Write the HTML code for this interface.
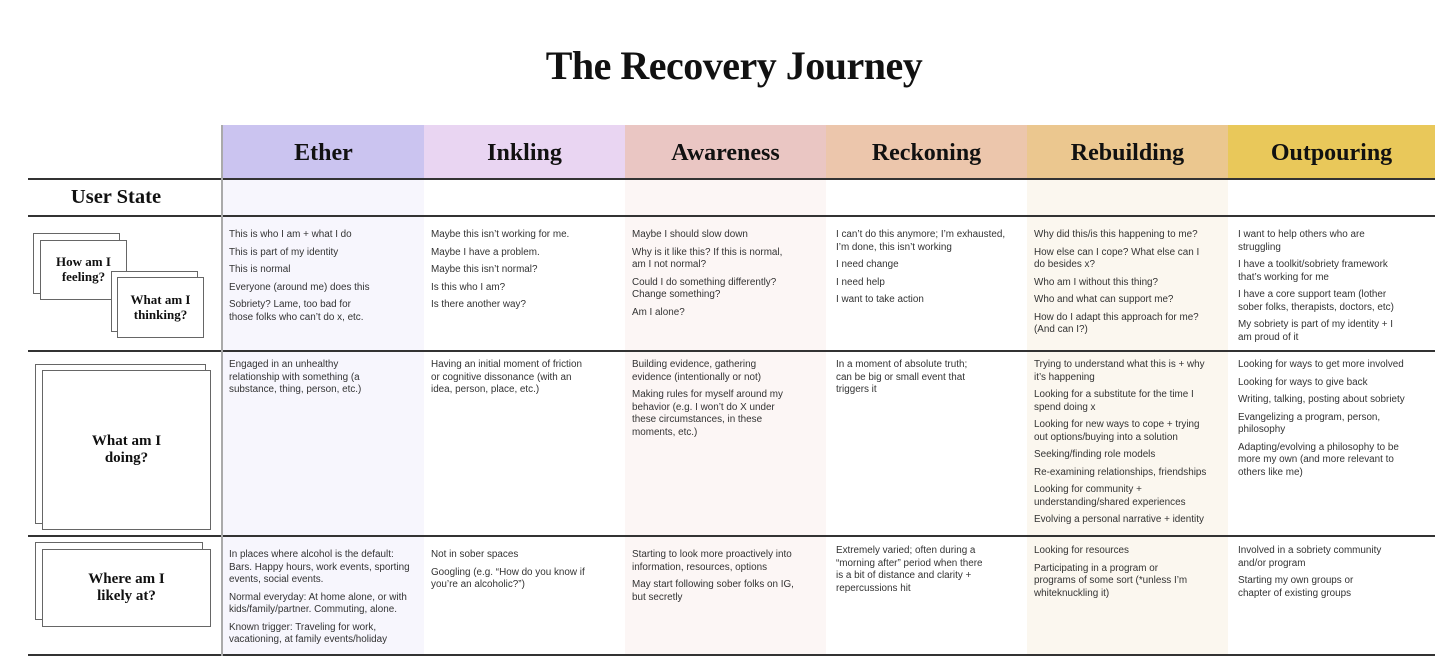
<!DOCTYPE html>
<html><head><meta charset="utf-8"><style>
*{margin:0;padding:0;box-sizing:border-box}
body{width:1456px;height:656px;background:#fff;position:relative;overflow:hidden;font-family:"Liberation Sans",sans-serif;color:#333}
.abs{position:absolute}
.title{left:0;width:1468px;top:42px;text-align:center;font-family:"Liberation Serif",serif;font-weight:bold;font-size:40px;color:#111;letter-spacing:-0.5px}
.hd{position:absolute;top:125px;height:53px;font-family:"Liberation Serif",serif;font-weight:bold;font-size:24px;color:#111;text-align:center;line-height:56px}
.bg{position:absolute;top:178px;height:477px}
.hl{position:absolute;left:28px;width:1407px;height:2px;background:#333}
.vl{position:absolute;left:221px;top:125px;width:2px;height:531px;background:#aaa}
.cell{position:absolute;font-size:9.9px;line-height:12.5px;color:#333;width:192px}
.cell p{margin-bottom:5px}
.card{position:absolute;border:1.3px solid #666;background:#fff;font-family:"Liberation Serif",serif;font-weight:bold;color:#111;text-align:center;display:flex;align-items:center;justify-content:center;line-height:1.15}
</style></head><body>
<div class="abs title">The Recovery Journey</div>

<div class="hd" style="left:223px;width:201px;background:#cbc4f0">Ether</div>
<div class="hd" style="left:424px;width:201px;background:#e9d5f2">Inkling</div>
<div class="hd" style="left:625px;width:201px;background:#eac6c3">Awareness</div>
<div class="hd" style="left:826px;width:201px;background:#ecc6ac">Reckoning</div>
<div class="hd" style="left:1027px;width:201px;background:#ebc78f">Rebuilding</div>
<div class="hd" style="left:1228px;width:207px;background:#e9c85a">Outpouring</div>

<div class="bg" style="left:223px;width:201px;background:#f7f6fd"></div>
<div class="bg" style="left:625px;width:201px;background:#fcf6f5"></div>
<div class="bg" style="left:1027px;width:201px;background:#fbf7ef"></div>

<div class="hl" style="top:178px"></div>
<div class="hl" style="top:215px"></div>
<div class="hl" style="top:350px"></div>
<div class="hl" style="top:535px"></div>
<div class="hl" style="top:654px"></div>
<div class="vl"></div>

<div class="abs" style="left:28px;width:176px;top:186px;text-align:center;font-family:'Liberation Serif',serif;font-weight:bold;font-size:20.5px;color:#111">User State</div>

<div class="card" style="left:33px;top:233px;width:87px;height:61px"></div>
<div class="card" style="left:40px;top:240px;width:87px;height:60px;font-size:13px">How am I<br>feeling?</div>
<div class="card" style="left:111px;top:271px;width:87px;height:61px"></div>
<div class="card" style="left:117px;top:277px;width:87px;height:61px;font-size:13px">What am I<br>thinking?</div>
<div class="card" style="left:35px;top:364px;width:171px;height:160px"></div>
<div class="card" style="left:42px;top:370px;width:169px;height:160px;font-size:15px">What am I<br>doing?</div>
<div class="card" style="left:35px;top:542px;width:168px;height:78px"></div>
<div class="card" style="left:42px;top:549px;width:169px;height:78px;font-size:15px">Where am I<br>likely at?</div>

<!-- Row 1 -->
<div class="cell" style="left:229px;top:229px"><p>This is who I am + what I do</p><p>This is part of my identity</p><p>This is normal</p><p>Everyone (around me) does this</p><p>Sobriety? Lame, too bad for<br>those folks who can’t do x, etc.</p></div>
<div class="cell" style="left:431px;top:229px"><p>Maybe this isn’t working for me.</p><p>Maybe I have a problem.</p><p>Maybe this isn’t normal?</p><p>Is this who I am?</p><p>Is there another way?</p></div>
<div class="cell" style="left:632px;top:229px"><p>Maybe I should slow down</p><p>Why is it like this? If this is normal,<br>am I not normal?</p><p>Could I do something differently?<br>Change something?</p><p>Am I alone?</p></div>
<div class="cell" style="left:836px;top:229px"><p>I can’t do this anymore; I’m exhausted,<br>I’m done, this isn’t working</p><p>I need change</p><p>I need help</p><p>I want to take action</p></div>
<div class="cell" style="left:1034px;top:229px"><p>Why did this/is this happening to me?</p><p>How else can I cope? What else can I<br>do besides x?</p><p>Who am I without this thing?</p><p>Who and what can support me?</p><p>How do I adapt this approach for me?<br>(And can I?)</p></div>
<div class="cell" style="left:1238px;top:229px;width:195px"><p>I want to help others who are<br>struggling</p><p>I have a toolkit/sobriety framework<br>that’s working for me</p><p>I have a core support team (lother<br>sober folks, therapists, doctors, etc)</p><p>My sobriety is part of my identity + I<br>am proud of it</p></div>

<!-- Row 2 -->
<div class="cell" style="left:229px;top:359px"><p>Engaged in an unhealthy<br>relationship with something (a<br>substance, thing, person, etc.)</p></div>
<div class="cell" style="left:431px;top:359px"><p>Having an initial moment of friction<br>or cognitive dissonance (with an<br>idea, person, place, etc.)</p></div>
<div class="cell" style="left:632px;top:359px"><p>Building evidence, gathering<br>evidence (intentionally or not)</p><p>Making rules for myself around my<br>behavior (e.g. I won’t do X under<br>these circumstances, in these<br>moments, etc.)</p></div>
<div class="cell" style="left:836px;top:359px"><p>In a moment of absolute truth;<br>can be big or small event that<br>triggers it</p></div>
<div class="cell" style="left:1034px;top:359px"><p>Trying to understand what this is + why<br>it’s happening</p><p>Looking for a substitute for the time I<br>spend doing x</p><p>Looking for new ways to cope + trying<br>out options/buying into a solution</p><p>Seeking/finding role models</p><p>Re-examining relationships, friendships</p><p>Looking for community +<br>understanding/shared experiences</p><p>Evolving a personal narrative + identity</p></div>
<div class="cell" style="left:1238px;top:359px;width:198px"><p>Looking for ways to get more involved</p><p>Looking for ways to give back</p><p>Writing, talking, posting about sobriety</p><p>Evangelizing a program, person,<br>philosophy</p><p>Adapting/evolving a philosophy to be<br>more my own (and more relevant to<br>others like me)</p></div>

<!-- Row 3 -->
<div class="cell" style="left:229px;top:549px;width:196px"><p>In places where alcohol is the default:<br>Bars. Happy hours, work events, sporting<br>events, social events.</p><p>Normal everyday: At home alone, or with<br>kids/family/partner. Commuting, alone.</p><p>Known trigger: Traveling for work,<br>vacationing, at family events/holiday</p></div>
<div class="cell" style="left:431px;top:549px"><p>Not in sober spaces</p><p>Googling (e.g. “How do you know if<br>you’re an alcoholic?”)</p></div>
<div class="cell" style="left:632px;top:549px"><p>Starting to look more proactively into<br>information, resources, options</p><p>May start following sober folks on IG,<br>but secretly</p></div>
<div class="cell" style="left:836px;top:545px"><p>Extremely varied; often during a<br>“morning after” period when there<br>is a bit of distance and clarity +<br>repercussions hit</p></div>
<div class="cell" style="left:1034px;top:545px"><p>Looking for resources</p><p>Participating in a program or<br>programs of some sort (*unless I’m<br>whiteknuckling it)</p></div>
<div class="cell" style="left:1238px;top:545px;width:195px"><p>Involved in a sobriety community<br>and/or program</p><p>Starting my own groups or<br>chapter of existing groups</p></div>
</body></html>
